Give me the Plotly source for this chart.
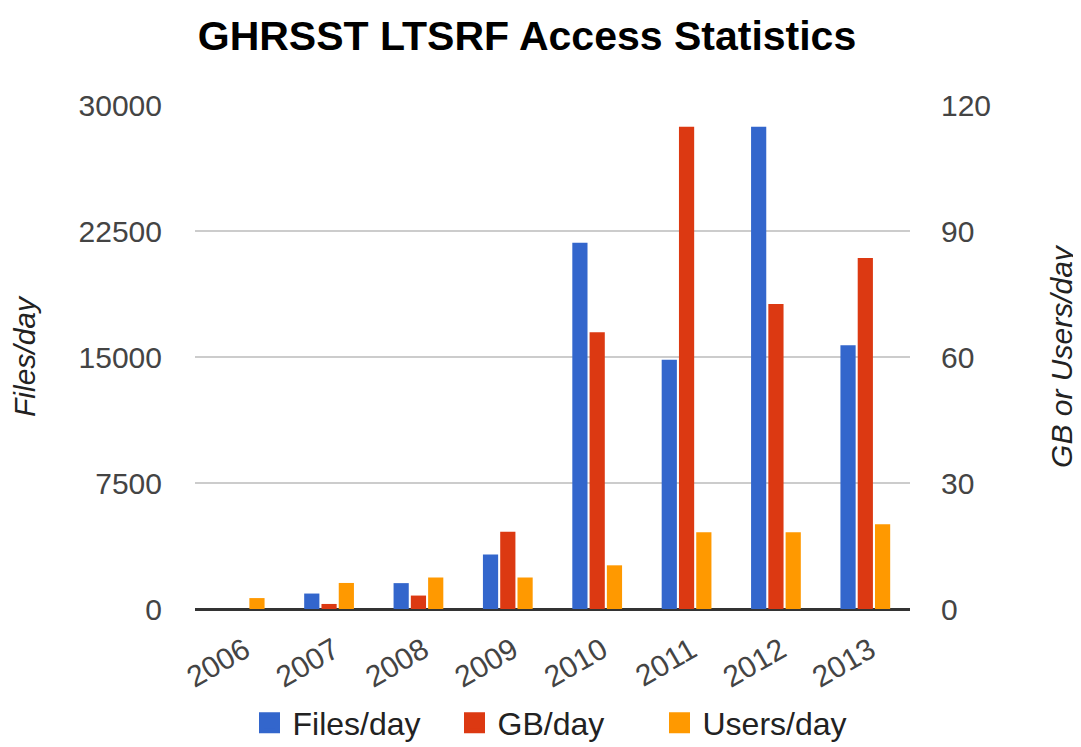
import plotly.graph_objects as go

years = ["2006", "2007", "2008", "2009", "2010", "2011", "2012", "2013"]
files_per_day = [0, 920, 1540, 3240, 21800, 14830, 28700, 15700]
gb_per_day = [0, 1.2, 3.2, 18.4, 65.9, 114.8, 72.6, 83.6]
users_per_day = [2.6, 6.2, 7.5, 7.5, 10.4, 18.3, 18.3, 20.2]
series_names = ["Files/day", "GB/day", "Users/day"]

left_ticks = [0, 7500, 15000, 22500, 30000]
right_ticks = [0, 30, 60, 90, 120]

BLUE = "#3366CC"
RED = "#DC3912"
ORANGE = "#FF9900"
COLORS = [BLUE, RED, ORANGE]
FONT = "Liberation Sans, Arial, sans-serif"

# page has an 8px body margin; figure coordinates are offset accordingly
W, H = 1081, 747
L, T = 187, 97
R = W - 902
B = H - 601

fig = go.Figure()
fig.add_trace(go.Bar(x=years, y=files_per_day, name=series_names[0], marker_color=BLUE,
                     offsetgroup="a", yaxis="y", marker_line_width=0, showlegend=False))
fig.add_trace(go.Bar(x=years, y=gb_per_day, name=series_names[1], marker_color=RED,
                     offsetgroup="b", yaxis="y2", marker_line_width=0, showlegend=False))
fig.add_trace(go.Bar(x=years, y=users_per_day, name=series_names[2], marker_color=ORANGE,
                     offsetgroup="c", yaxis="y2", marker_line_width=0, showlegend=False))

# legend entries with large square swatches
for name, col in zip(series_names, COLORS):
    fig.add_trace(go.Scatter(x=[None], y=[None], mode="markers", name=name,
                             marker=dict(symbol="square", size=16, color=col,
                                         line=dict(color=col, width=5)),
                             showlegend=True))

fig.update_layout(
    width=W, height=H,
    barmode="group", bargap=0.42, bargroupgap=0.12,
    plot_bgcolor="white", paper_bgcolor="white",
    margin=dict(l=L, r=R, t=T, b=B, autoexpand=False),
    font=dict(family=FONT, size=30, color="#444444"),
    title=dict(text="<b>GHRSST LTSRF Access Statistics</b>", x=519 / W, xanchor="center",
               y=1 - 28 / H, yref="container", yanchor="middle",
               font=dict(family=FONT, size=41, color="#000000")),
    xaxis=dict(tickangle=-30, showgrid=False, showline=False, ticks="", automargin=False,
               ticklabelstandoff=17, ticklabelshift=5, tickfont=dict(size=30, color="#444444")),
    yaxis=dict(range=[0, 30000], tickvals=left_ticks, ticktext=[str(v) for v in left_ticks],
               showgrid=True, gridcolor="#CCCCCC", gridwidth=2, zeroline=True,
               zerolinecolor="#333333", zerolinewidth=3, ticklabelstandoff=32, automargin=False,
               tickfont=dict(size=30, color="#444444"),
               title=dict(text="<i>Files/day</i>", standoff=38, font=dict(size=30, color="#222222"))),
    yaxis2=dict(range=[0, 120], tickvals=right_ticks, ticktext=[str(v) for v in right_ticks],
                overlaying="y", side="right", showgrid=False, zeroline=False,
                ticklabelstandoff=30, automargin=False,
                tickfont=dict(size=30, color="#444444"),
                title=dict(text="<i>GB or Users/day</i>", standoff=60, font=dict(size=30, color="#222222"))),
    legend=dict(orientation="h", x=546 / W, xanchor="center", xref="container",
                y=1 - 715 / H, yanchor="middle", yref="container",
                font=dict(size=32, color="#222222"), itemsizing="trace", traceorder="normal",
                itemwidth=36, entrywidth=154, entrywidthmode="pixels"),
)

fig.write_html("out.html")
